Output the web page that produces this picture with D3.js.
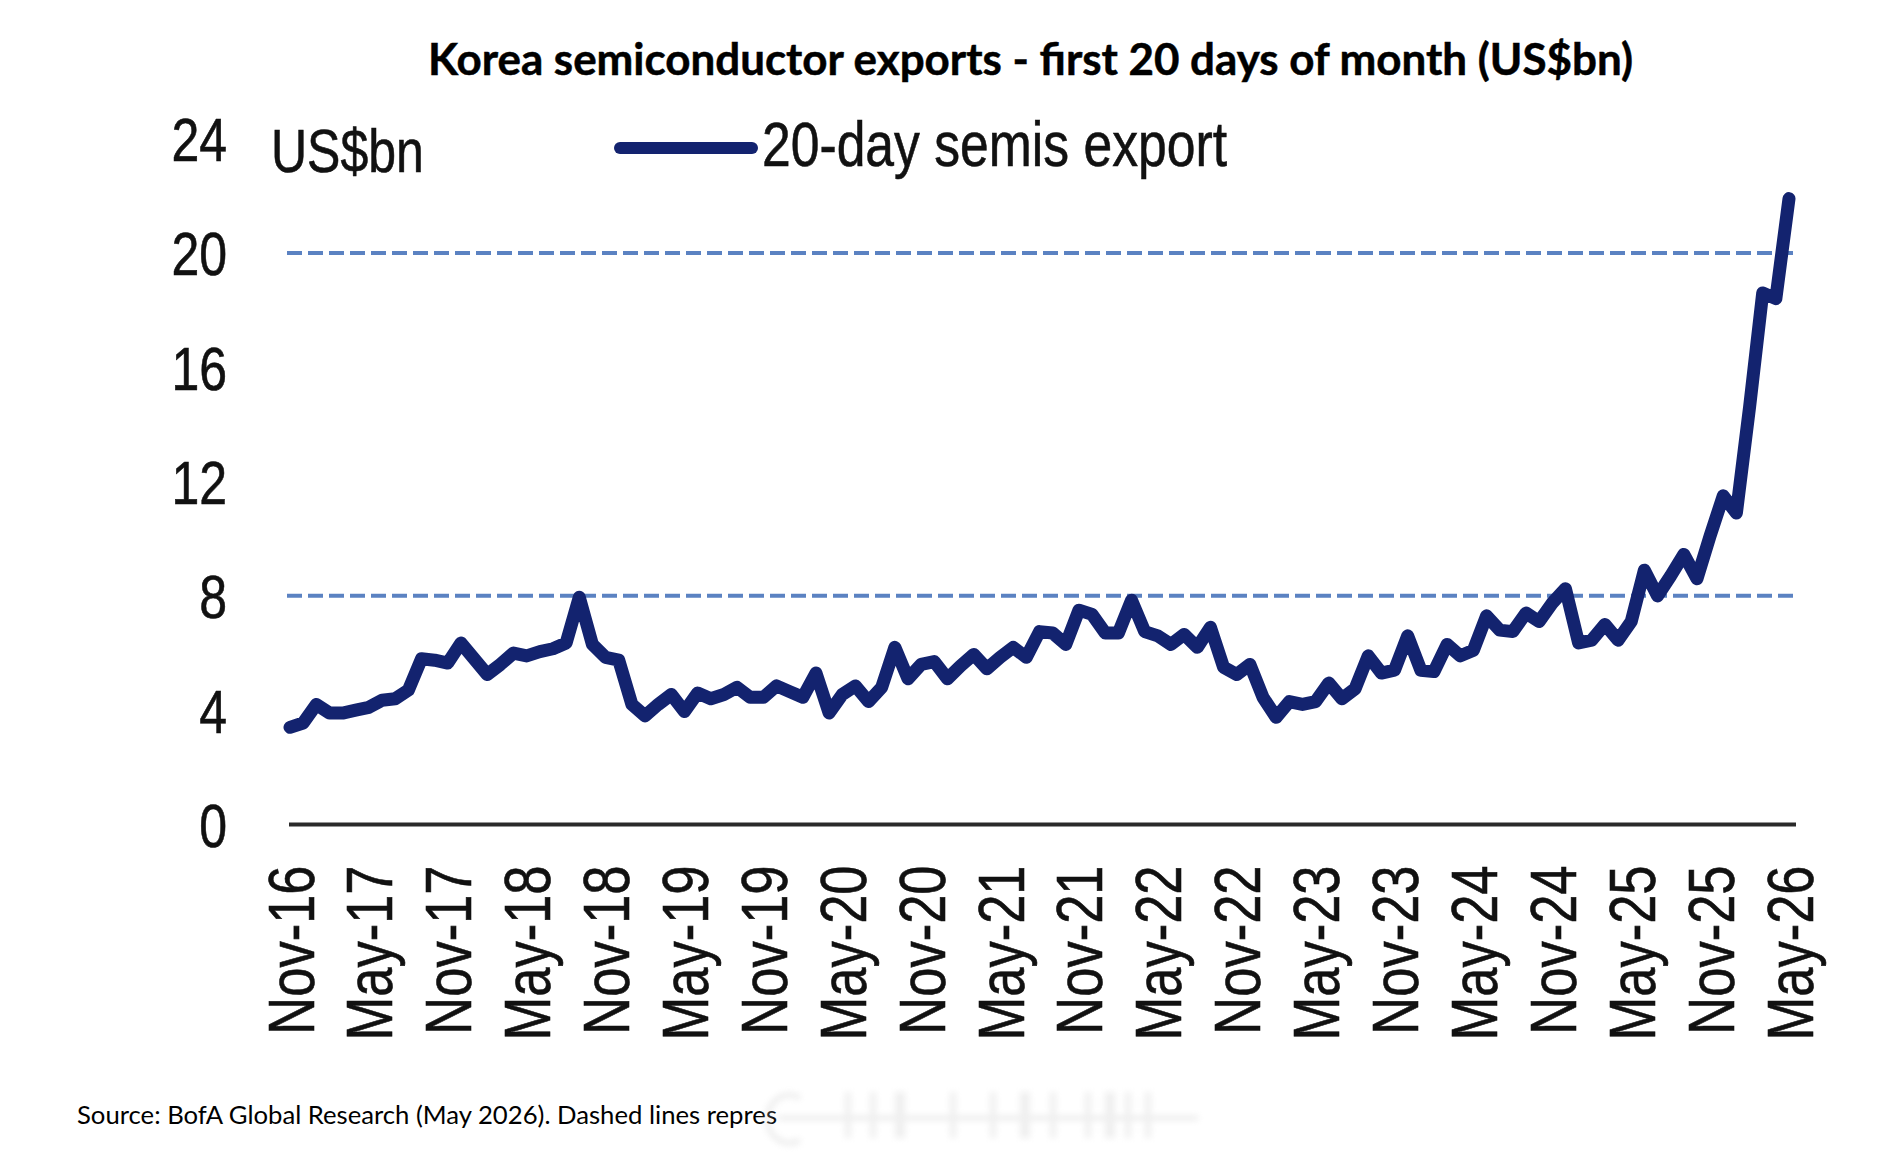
<!DOCTYPE html>
<html>
<head>
<meta charset="utf-8">
<script src="https://cdn.jsdelivr.net/npm/d3@7"></script>
<style>
  html, body { margin: 0; padding: 0; background: #ffffff; }
  svg { display: block; }
</style>
</head>
<body>
<script>
// ---- Data ----
const startMonth = new Date(2016, 10, 1);   // Nov-16
const endMonth = new Date(2026, 5, 1);      // exclusive -> last = May-26
const months = d3.timeMonth.range(startMonth, endMonth);
const fmt = d3.timeFormat("%b-%y");
const categories = months.map(fmt);

const exportValues = [
  3.4, 3.55, 4.2, 3.9, 3.9, 4.0, 4.1, 4.35, 4.4, 4.7,
  5.8, 5.75, 5.65, 6.35, 5.8, 5.25, 5.6, 6.0, 5.9, 6.05,
  6.15, 6.35, 7.95, 6.3, 5.85, 5.75, 4.2, 3.8, 4.2, 4.55,
  3.95, 4.6, 4.4, 4.55, 4.8, 4.45, 4.45, 4.85, 4.65, 4.45,
  5.3, 3.9, 4.55, 4.85, 4.3, 4.8, 6.2, 5.1, 5.6, 5.7,
  5.1, 5.55, 5.95, 5.45, 5.85, 6.2, 5.85, 6.75, 6.7, 6.3,
  7.5, 7.35, 6.7, 6.7, 7.85, 6.75, 6.6, 6.3, 6.65, 6.2,
  6.9, 5.5, 5.25, 5.6, 4.45, 3.75, 4.3, 4.2, 4.3, 4.95,
  4.4, 4.75, 5.9, 5.3, 5.4, 6.6, 5.4, 5.35, 6.3, 5.9,
  6.1, 7.3, 6.8, 6.75, 7.4, 7.1, 7.75, 8.25, 6.35, 6.45,
  7.0, 6.45, 7.1, 8.9, 8.0, 8.7, 9.45, 8.6, 10.1, 11.5,
  10.9, 14.6, 18.6, 18.4, 21.9
];

const xTickLabels = ["Nov-16","May-17","Nov-17","May-18","Nov-18","May-19","Nov-19","May-20",
  "Nov-20","May-21","Nov-21","May-22","Nov-22","May-23","Nov-23","May-24","Nov-24","May-25",
  "Nov-25","May-26"];
const yTickValues = [0, 4, 8, 12, 16, 20, 24];
const referenceLevels = [8, 20];

const titleText = "Korea semiconductor exports - first 20 days of month (US$bn)";
const unitText = "US$bn";
const seriesName = "20-day semis export";
const sourceText = "Source: BofA Global Research (May 2026). Dashed lines repres";

// ---- Layout ----
const W = 1890, H = 1164;
const lineColor = "#13236f";
const dashColor = "#5b82c2";
const axisFont = "'Liberation Sans', Arial, sans-serif";
const narrow = 0.82;

const svg = d3.select("body").append("svg")
  .attr("width", W).attr("height", H)
  .attr("viewBox", `0 0 ${W} ${H}`);

const defs = svg.append("defs");
defs.append("filter").attr("id", "wmblur")
  .attr("x", "-20%").attr("y", "-50%").attr("width", "140%").attr("height", "200%")
  .append("feGaussianBlur").attr("stdDeviation", 3);

const x = d3.scalePoint().domain(categories).range([290, 1789]);
const y = d3.scaleLinear().domain([0, 24]).range([824.5, 138.6]);

// Title
svg.append("text")
  .attr("x", 428).attr("y", 75)
  .attr("textLength", 1205).attr("lengthAdjust", "spacingAndGlyphs")
  .style("font-family", "Lato, 'Open Sans', sans-serif")
  .style("font-weight", 700)
  .style("font-size", "43px")
  .attr("fill", "#000")
  .attr("stroke", "#000").attr("stroke-width", 0.5)
  .text(titleText);

// Reference dashed lines
svg.append("g").selectAll("line").data(referenceLevels).join("line")
  .attr("x1", 287).attr("x2", 1793)
  .attr("y1", d => y(d)).attr("y2", d => y(d))
  .attr("stroke", dashColor).attr("stroke-width", 4)
  .attr("stroke-dasharray", "15 6");

// Y axis
const yAxis = svg.append("g")
  .attr("transform", "translate(227,0)")
  .call(d3.axisLeft(y).tickValues(yTickValues).tickSize(0).tickPadding(0).tickFormat(d3.format("d")));
yAxis.select(".domain").remove();
yAxis.selectAll("text")
  .attr("x", 0).attr("dy", "0.36em")
  .attr("transform", `scale(${narrow},1)`)
  .style("font-family", axisFont)
  .style("font-size", "61px")
  .attr("fill", "#111")
  .attr("stroke", "#111").attr("stroke-width", 0.6);

// X axis (labels)
const labelSet = new Set(xTickLabels);
const xAxis = svg.append("g")
  .attr("transform", `translate(0,${y(0)})`)
  .call(d3.axisBottom(x).tickValues(categories.filter(c => labelSet.has(c))).tickSize(0));
xAxis.select(".domain").remove();
xAxis.selectAll("text")
  .attr("x", 0).attr("y", 0).attr("dy", "0.36em")
  .attr("text-anchor", "end")
  .attr("transform", `translate(0,41) rotate(-90) scale(${narrow},1)`)
  .style("font-family", axisFont)
  .style("font-size", "64px")
  .attr("fill", "#111")
  .attr("stroke", "#111").attr("stroke-width", 0.6);

// Baseline axis line
svg.append("line")
  .attr("x1", 289).attr("x2", 1796)
  .attr("y1", y(0)).attr("y2", y(0))
  .attr("stroke", "#2a2a2a").attr("stroke-width", 4);

// Data line
const line = d3.line()
  .x((d, i) => x(categories[i]))
  .y(d => y(d));
svg.append("path")
  .datum(exportValues)
  .attr("d", line)
  .attr("fill", "none")
  .attr("stroke", lineColor)
  .attr("stroke-width", 13)
  .attr("stroke-linejoin", "round")
  .attr("stroke-linecap", "round");

// Unit label
svg.append("text")
  .attr("transform", `translate(271,172) scale(${narrow},1)`)
  .style("font-family", axisFont)
  .style("font-size", "61px")
  .attr("fill", "#111")
  .attr("stroke", "#111").attr("stroke-width", 0.6)
  .text(unitText);

// Legend
svg.append("line")
  .attr("x1", 620).attr("x2", 752)
  .attr("y1", 148).attr("y2", 148)
  .attr("stroke", lineColor).attr("stroke-width", 12)
  .attr("stroke-linecap", "round");
svg.append("text")
  .attr("transform", `translate(762,166) scale(${narrow},1)`)
  .style("font-family", axisFont)
  .style("font-size", "63px")
  .attr("fill", "#111")
  .attr("stroke", "#111").attr("stroke-width", 0.6)
  .text(seriesName);

// Source note
svg.append("text")
  .attr("x", 77).attr("y", 1124)
  .attr("textLength", 700).attr("lengthAdjust", "spacingAndGlyphs")
  .style("font-family", "Lato, 'Open Sans', sans-serif")
  .style("font-size", "25px")
  .attr("fill", "#000")
  .text(sourceText);

// Faint blurred overlay at end of source note (as in the picture)
const wm = svg.append("g").attr("filter", "url(#wmblur)").attr("opacity", 0.4);
wm.append("rect").attr("x", 778).attr("y", 1116).attr("width", 420).attr("height", 4).attr("fill", "#c8c8c8");
wm.append("path").attr("d", "M800,1098 A22,24 0 1,0 800,1140").attr("fill", "none").attr("stroke", "#d0d0d0").attr("stroke-width", 5);
[845, 870, 895, 950, 990, 1020, 1050, 1085, 1105, 1125, 1145].forEach((bx, k) => {
  wm.append("rect").attr("x", bx).attr("y", 1092).attr("width", k % 3 === 2 ? 10 : 6).attr("height", 46).attr("fill", "#d8d8d8");
});
</script>
</body>
</html>
